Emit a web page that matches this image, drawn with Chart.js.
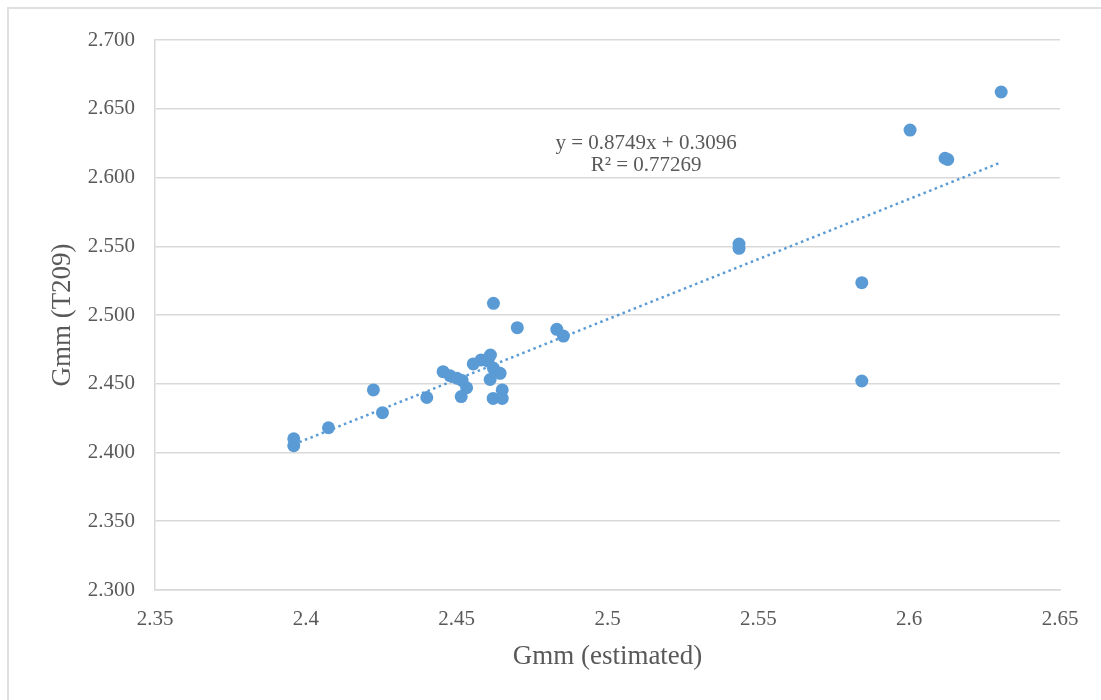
<!DOCTYPE html>
<html>
<head>
<meta charset="utf-8">
<title>Gmm (T209) vs Gmm (estimated)</title>
<script src="https://cdn.jsdelivr.net/npm/chart.js@4/dist/chart.umd.min.js"></script>
<style>
  html, body { margin: 0; padding: 0; background: #fff; overflow: hidden; }
  #wrap { position: relative; width: 1101px; height: 700px; }
  #frame { position: absolute; left: 7px; top: 7px; width: 1200px; height: 800px;
           border: 2px solid #e0e0e0; pointer-events: none; }
  canvas { position: absolute; left: 0; top: 0; }
</style>
</head>
<body>
<div id="wrap">
  <div id="frame"></div>
  <canvas id="chart" width="1101" height="700"></canvas>
</div>
<script>
// valores
const gmmEstimado = [
  2.396, 2.396, 2.4075, 2.4224, 2.4254, 2.4401, 2.4455, 2.4478, 2.4501, 2.4518,
  2.4533, 2.4515, 2.4555, 2.4581, 2.4612, 2.4604, 2.4622, 2.4644, 2.4611, 2.4651,
  2.4621, 2.4651, 2.4622, 2.4701, 2.4832, 2.4854, 2.5436, 2.5436, 2.5843, 2.5843,
  2.6003, 2.6119, 2.6128, 2.6305
];
const gmmT209 = [
  2.410, 2.405, 2.418, 2.4455, 2.429, 2.440, 2.4588, 2.4558, 2.454, 2.4524,
  2.4471, 2.4407, 2.4644, 2.4673, 2.4709, 2.4665, 2.4612, 2.4576, 2.4531, 2.4455,
  2.4393, 2.4393, 2.5085, 2.4908, 2.4896, 2.4847, 2.5516, 2.5485, 2.5235, 2.452,
  2.6345, 2.614, 2.6131, 2.6622
];

// linha de tendência (extremos)
const tendX = [2.396, 2.630];
const tendY = [2.4059, 2.6106];
const equacao = ['y = 0.8749x + 0.3096', 'R\u00B2 = 0.77269'];
const equacaoPos = [2.5128, 2.6244];

const xTicks = [2.35, 2.4, 2.45, 2.5, 2.55, 2.6, 2.65];
const xTickLabels = ['2.35', '2.4', '2.45', '2.5', '2.55', '2.6', '2.65'];
const yTicks = [2.3, 2.35, 2.4, 2.45, 2.5, 2.55, 2.6, 2.65, 2.7];
const yTickLabels = ['2.300', '2.350', '2.400', '2.450', '2.500', '2.550', '2.600', '2.650', '2.700'];

const AZUL = '#5b9bd5';
const CINZA = '#595959';
const FONTE = "'Liberation Serif', 'Times New Roman', serif";

const pontos = gmmEstimado.map((x, i) => ({ x: x, y: gmmT209[i] }));
const tendencia = tendX.map((x, i) => ({ x: x, y: tendY[i] }));

// desenha o texto da equação
const pluginEquacao = {
  id: 'equacao',
  afterDatasetsDraw(chart) {
    const { ctx, scales } = chart;
    const px = scales.x.getPixelForValue(equacaoPos[0]);
    const py = scales.y.getPixelForValue(equacaoPos[1]);
    ctx.save();
    ctx.fillStyle = CINZA;
    ctx.font = "21px " + FONTE;
    ctx.textAlign = 'center';
    ctx.textBaseline = 'middle';
    equacao.forEach((linha, i) => ctx.fillText(linha, px, py + i * 22));
    ctx.restore();
  }
};

new Chart(document.getElementById('chart').getContext('2d'), {
  type: 'scatter',
  data: {
    datasets: [
      {
        label: 'Tendência',
        type: 'line',
        data: tendencia,
        borderColor: AZUL,
        borderWidth: 2.5,
        borderDash: [2.5, 3.5],
        borderCapStyle: 'butt',
        pointRadius: 0,
        fill: false,
        order: 2
      },
      {
        label: 'Gmm',
        data: pontos,
        backgroundColor: AZUL,
        borderColor: AZUL,
        borderWidth: 0,
        pointRadius: 6.5,
        order: 1
      }
    ]
  },
  options: {
    responsive: false,
    animation: false,
    layout: { padding: { left: 0, top: 40, right: 41, bottom: 0 } },
    plugins: {
      legend: { display: false },
      tooltip: { enabled: false }
    },
    scales: {
      x: {
        type: 'linear',
        min: 2.35,
        max: 2.65,
        afterBuildTicks: (s) => { s.ticks = xTicks.map(v => ({ value: v })); },
        afterFit: (s) => { s.height = 110; },
        grid: { display: false, drawTicks: false },
        border: { display: true, color: '#d9d9d9', width: 1.5 },
        ticks: {
          color: CINZA,
          font: { family: FONTE, size: 21 },
          padding: 17,
          maxRotation: 0,
          callback: (v, i) => xTickLabels[i]
        },
        title: {
          display: true,
          text: 'Gmm (estimated)',
          color: CINZA,
          font: { family: FONTE, size: 27 },
          padding: { top: 0, bottom: 27 }
        }
      },
      y: {
        type: 'linear',
        min: 2.3,
        max: 2.7,
        afterBuildTicks: (s) => { s.ticks = yTicks.map(v => ({ value: v })); },
        afterFit: (s) => { s.width = 155; },
        grid: { color: '#d9d9d9', lineWidth: 1.5, drawTicks: false },
        border: { display: true, color: '#d9d9d9', width: 1.5 },
        ticks: {
          color: CINZA,
          font: { family: FONTE, size: 21 },
          padding: 20,
          callback: (v, i) => yTickLabels[i]
        },
        title: {
          display: true,
          text: 'Gmm (T209)',
          color: CINZA,
          font: { family: FONTE, size: 27 },
          padding: { top: 47, bottom: 0 }
        }
      }
    }
  },
  plugins: [pluginEquacao]
});
</script>
</body>
</html>
